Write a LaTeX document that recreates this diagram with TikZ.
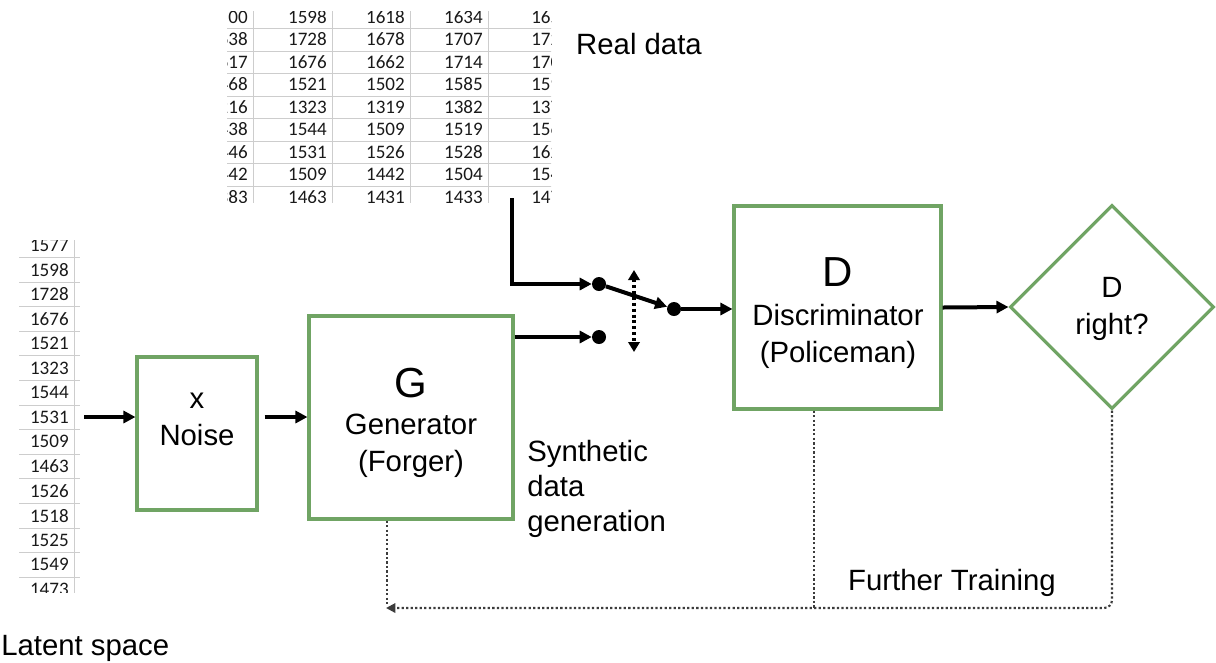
\documentclass[tikz,border=0pt]{standalone}
\usepackage{fontspec}
\setmainfont{Liberation Sans}
\newfontfamily\tabfont{Carlito}
\usetikzlibrary{arrows.meta,shapes.geometric,calc}
\definecolor{boxgreen}{RGB}{112,164,100}
\definecolor{gridgray}{RGB}{205,205,205}
\definecolor{tabink}{RGB}{25,25,25}
\definecolor{fbgray}{RGB}{60,60,60}
\begin{document}
\begin{tikzpicture}[x=0.75pt,y=-0.75pt,
  box/.style={draw=boxgreen,line width=2.3pt,rectangle,inner sep=0pt},
  lbl/.style={inner sep=0pt,align=center,font=\fontsize{22}{27.75}\selectfont},
  big/.style={inner sep=0pt,font=\fontsize{31.5}{36}\selectfont},
  tabtxt/.style={inner sep=0pt,text=tabink,font=\tabfont\fontsize{14.3}{16}\selectfont},
  grid/.style={draw=gridgray,line width=0.7pt},
  arr/.style={line width=3pt,-{Triangle[length=9pt,width=9pt]}},
  dot/.style={circle,fill=black,inner sep=0pt,minimum size=10.5pt},
  fb/.style={line width=1.6pt,draw=fbgray,dash pattern=on 1.7pt off 1.7pt},
  fbarr/.style={fb,-{Triangle[length=7pt,width=7pt]}},
  sw/.style={line width=3pt,dash pattern=on 2.2pt off 2.2pt,{Triangle[length=7.5pt,width=8.5pt]}-{Triangle[length=7.5pt,width=8.5pt]}}
]
\useasboundingbox (0,0) rectangle (1216,662);

% top table (real data)
\begin{scope}
\clip (227,11) rectangle (551,202);
\foreach \k in {0,...,8}{
  \draw[grid] (220,{28.5+22.5*\k}) -- (560,{28.5+22.5*\k});
}
\foreach \xx in {253,332,410,488}{
  \draw[grid] (\xx,0) -- (\xx,210);
}
\foreach \v [count=\i from 0] in {1500,1638,1617,1468,1216,1438,1446,1442,1383}{
  \node[tabtxt,anchor=east] (ta\i) at (248,{17+22.5*\i}) {\v};}
\foreach \v [count=\i from 0] in {1598,1728,1676,1521,1323,1544,1531,1509,1463}{
  \node[tabtxt,anchor=east] (tb\i) at (327,{17+22.5*\i}) {\v};}
\foreach \v [count=\i from 0] in {1618,1678,1662,1502,1319,1509,1526,1442,1431}{
  \node[tabtxt,anchor=east] (tc\i) at (405,{17+22.5*\i}) {\v};}
\foreach \v [count=\i from 0] in {1634,1707,1714,1585,1382,1519,1528,1504,1433}{
  \node[tabtxt,anchor=east] (td\i) at (483,{17+22.5*\i}) {\v};}
\foreach \v [count=\i from 0] in {1652,1723,1704,1592,1376,1561,1623,1548,1470}{
  \node[tabtxt,anchor=west] (te\i) at (531,{17+22.5*\i}) {\v};}
\end{scope}

% left table (latent space)
\begin{scope}
\clip (15,240) rectangle (82,592);
\foreach \v [count=\i from 0] in {1577,1598,1728,1676,1521,1323,1544,1531,1509,1463,1526,1518,1525,1549,1473}{
  \node[tabtxt,anchor=east] (la\i) at (69,{245+24.6*\i}) {\v};
  \draw[grid] (19,{257.5+24.6*\i}) -- (80,{257.5+24.6*\i});
}
\draw[grid] (74,230) -- (74,600);
\end{scope}

% boxes
\node[box,minimum width=90pt,minimum height=114.75pt] (noise) at (197,433.5) {};
\node[box,minimum width=153pt,minimum height=152.25pt] (gen) at (411,417.5) {};
\node[box,minimum width=155.25pt,minimum height=152.25pt] (disc) at (837.5,307.5) {};
\node[draw=boxgreen,line width=2.3pt,diamond,aspect=1,inner sep=0pt,minimum width=153pt,minimum height=153pt] (dia) at (1112,307) {};

% box texts
\node[lbl] (noiseT) at (197,419) {x\\Noise};
\node[big] (genG) at (411,383) {G};
\node[lbl] (genT) at (411,446) {Generator\\(Forger)};
\node[big] (discD) at (838,272) {D};
\node[lbl] (discT) at (838,336) {Discriminator\\(Policeman)};
\node[lbl] (diaT) at (1112,309) {D\\right?};

% free labels
\node[lbl] (real) at (639,44) {Real data};
\node[lbl,align=left,anchor=west,font=\fontsize{22}{26.25}\selectfont] (synth) at (527,489) {Synthetic\\data\\generation};
\node[lbl] (further) at (952,583) {Further Training};
\node[lbl,anchor=west] (latent) at (1,648) {Latent space};

% switch dots
\node[dot] (d1) at (599,284) {};
\node[dot] (d2) at (599,337) {};
\node[dot] (d3) at (674,309) {};
\coordinate (rd) at (512,198);
\coordinate (lt) at (84,417);
\coordinate (sa) at (634,270);
\coordinate (sb) at (634,352);

% connectors
\draw[arr] (lt) -- (noise.west |- lt);
\draw[arr] ([xshift=4.5pt]noise.east |- lt) -- (gen.west |- lt);
\draw[arr] (gen.east |- d2) -- (d2);
\draw[arr] (rd) |- (d1);
\draw[arr] (d1) -- (d3);
\draw[arr] (d3) -- (disc.west |- d3);
\draw[sw] (sa) -- (sb);
\draw[arr] (disc.east) -- (dia.west);

% feedback
\coordinate (fbl) at (386,608);
\coordinate (gfb) at ([xshift=-18pt]gen.south);
\coordinate (dfb) at ([xshift=-17.5pt]disc.south);
\draw[fb] (gfb) -- ($(gfb |- fbl)+(0,-4)$);
\draw[fb] (dfb) -- (dfb |- fbl);
\draw[fbarr,rounded corners=6pt] (dia.south) -- (dia.south |- fbl) -- (fbl);
\end{tikzpicture}
\end{document}
